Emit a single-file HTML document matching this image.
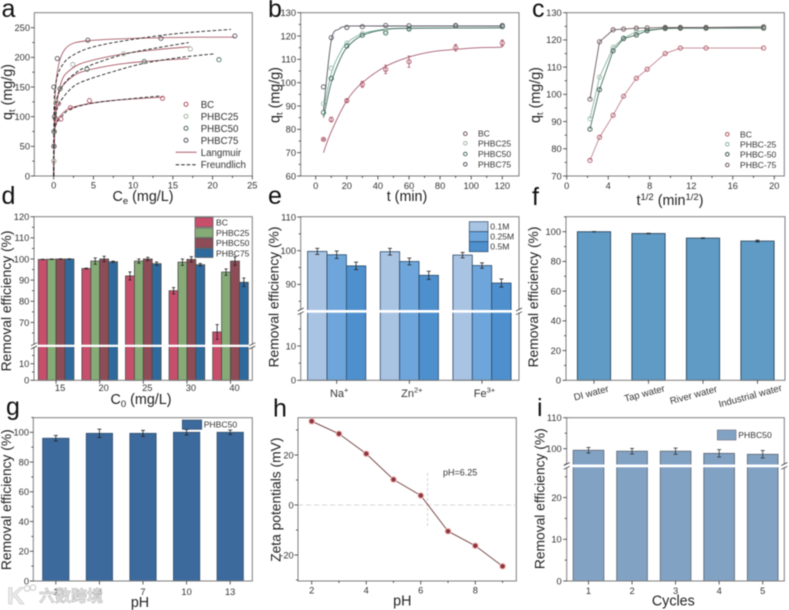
<!DOCTYPE html>
<html lang="en">
<head>
<meta charset="utf-8">
<title>Adsorption performance figure</title>
<style>
html,body{margin:0;padding:0;background:#fff;width:789px;height:610px;overflow:hidden}
svg{display:block;filter:blur(0.5px);font-family:"Liberation Sans","Noto Sans CJK SC",sans-serif}
</style>
</head>
<body>
<svg id="figure" xmlns="http://www.w3.org/2000/svg" width="789" height="610" viewBox="0 0 789 610">
<rect x="0" y="0" width="789" height="610" fill="#fff"/>

<g id="panel-a">
  <g id="marks-a"></g>
  <text x="1.5" y="17" font-size="25" fill="#111">a</text>
  <text transform="translate(12,92) rotate(-90)" text-anchor="middle" font-size="14.3" fill="#222">q<tspan font-size="9.5" dy="3">t</tspan><tspan dy="-3"> (mg/g)</tspan></text>
  <text x="143" y="201" text-anchor="middle" font-size="14.3" fill="#222">C<tspan font-size="9.5" dy="3">e</tspan><tspan dy="-3"> (mg/L)</tspan></text>
  <g font-size="9.7" fill="#333">
    <circle cx="186" cy="104.3" r="2" fill="none" stroke="#b05565"/>
    <circle cx="186" cy="116.3" r="2" fill="none" stroke="#a5b8a5"/>
    <circle cx="186" cy="128.3" r="2" fill="none" stroke="#4f6f5f"/>
    <circle cx="186" cy="140.3" r="2" fill="none" stroke="#5a5560"/>
    <line x1="175.7" x2="196.7" y1="152.3" y2="152.3" stroke="#a85c68"/>
    <line x1="175.7" x2="196.7" y1="164.7" y2="164.7" stroke="#222" stroke-dasharray="3.5 2"/>
    <text x="200.7" y="107.8">BC</text>
    <text x="200.7" y="119.8">PHBC25</text>
    <text x="200.7" y="131.8">PHBC50</text>
    <text x="200.7" y="143.8">PHBC75</text>
    <text x="200.7" y="155.8">Langmuir</text>
    <text x="200.7" y="168.2">Freundlich</text>
  </g>
</g>

<g id="panel-b">
  <g id="marks-b"></g>
  <text x="268" y="17" font-size="25" fill="#111">b</text>
  <text transform="translate(279.7,95) rotate(-90)" text-anchor="middle" font-size="14.3" fill="#222">q<tspan font-size="9.5" dy="3">t</tspan><tspan dy="-3"> (mg/g)</tspan></text>
  <text x="407" y="201" text-anchor="middle" font-size="14.3" fill="#222">t (min)</text>
  <g font-size="8.5" fill="#333">
    <circle cx="465.3" cy="133.7" r="1.8" fill="none" stroke="#6d5560"/>
    <circle cx="465.3" cy="143.3" r="1.8" fill="none" stroke="#a5b8a5"/>
    <circle cx="465.3" cy="154" r="1.8" fill="none" stroke="#4f6f5f"/>
    <circle cx="465.3" cy="164.3" r="1.8" fill="none" stroke="#5a5560"/>
    <text x="478" y="136.7">BC</text>
    <text x="478" y="146.6">PHBC25</text>
    <text x="478" y="157">PHBC50</text>
    <text x="478" y="167.3">PHBC75</text>
  </g>
</g>

<g id="panel-c">
  <g id="marks-c"></g>
  <text x="532" y="17" font-size="25" fill="#111">c</text>
  <text transform="translate(540,95) rotate(-90)" text-anchor="middle" font-size="14.3" fill="#222">q<tspan font-size="9.5" dy="3">t</tspan><tspan dy="-3"> (mg/g)</tspan></text>
  <text x="670" y="205" text-anchor="middle" font-size="14.3" fill="#222">t<tspan font-size="9.5" dy="-5">1/2</tspan><tspan dy="5"> (min</tspan><tspan font-size="9.5" dy="-5">1/2</tspan><tspan dy="5">)</tspan></text>
  <g font-size="8.6" fill="#333">
    <circle cx="727.3" cy="134.3" r="1.8" fill="none" stroke="#b05565"/>
    <circle cx="727.3" cy="144.3" r="1.8" fill="none" stroke="#8ab5a3"/>
    <circle cx="727.3" cy="154.3" r="1.8" fill="none" stroke="#3c5a4c"/>
    <circle cx="727.3" cy="165" r="1.8" fill="none" stroke="#6f5a5f"/>
    <text x="740" y="137.3">BC</text>
    <text x="740" y="147.3">PHBC-25</text>
    <text x="740" y="157.3">PHBC-50</text>
    <text x="740" y="168">PHBC-75</text>
  </g>
</g>

<g id="panel-d">
  <g id="marks-d"></g>
  <text x="1.5" y="204" font-size="25" fill="#111">d</text>
  <text transform="translate(11,301) rotate(-90)" text-anchor="middle" font-size="13.8" fill="#222">Removal efficiency (%)</text>
  <text x="141" y="404" text-anchor="middle" font-size="14.3" fill="#222">C<tspan font-size="9.5" dy="3">0</tspan><tspan dy="-3"> (mg/L)</tspan></text>
  <g font-size="8.6" fill="#333">
    <rect x="195" y="217.5" width="18" height="9.5" fill="#c84f6c" stroke="#555" stroke-width=".7"/>
    <rect x="195" y="228" width="18" height="9.5" fill="#86ab76" stroke="#555" stroke-width=".7"/>
    <rect x="195" y="238.3" width="18" height="9.5" fill="#8e4c57" stroke="#555" stroke-width=".7"/>
    <rect x="195" y="248.5" width="18" height="9" fill="#2f6a9e" stroke="#555" stroke-width=".7"/>
    <text x="216" y="225.5">BC</text>
    <text x="216" y="236">PHBC25</text>
    <text x="216" y="246.2">PHBC50</text>
    <text x="216" y="256.5">PHBC75</text>
  </g>
</g>

<g id="panel-e">
  <g id="marks-e"></g>
  <text x="268" y="204" font-size="25" fill="#111">e</text>
  <text transform="translate(278.7,297) rotate(-90)" text-anchor="middle" font-size="13.8" fill="#222">Removal efficiency (%)</text>
  <g font-size="8.6" fill="#333">
    <rect x="469.3" y="221.7" width="18.7" height="10" fill="#a9c3e3" stroke="#2a4a6a" stroke-width=".7"/>
    <rect x="469.3" y="231.7" width="18.7" height="10" fill="#6ea6dc" stroke="#2a4a6a" stroke-width=".7"/>
    <rect x="469.3" y="241.7" width="18.7" height="10" fill="#4e8fce" stroke="#2a4a6a" stroke-width=".7"/>
    <text x="490.3" y="229.5">0.1M</text>
    <text x="490.3" y="239.5">0.25M</text>
    <text x="490.3" y="249.5">0.5M</text>
  </g>
</g>

<g id="panel-f">
  <g id="marks-f"></g>
  <text x="532" y="205" font-size="25" fill="#111">f</text>
  <text transform="translate(538,297) rotate(-90)" text-anchor="middle" font-size="13.8" fill="#222">Removal efficiency (%)</text>
</g>

<g id="panel-g">
  <g id="marks-g"></g>
  <text x="6" y="415" font-size="25" fill="#111">g</text>
  <text transform="translate(11,499.7) rotate(-90)" text-anchor="middle" font-size="13.8" fill="#222">Removal efficiency (%)</text>
  <text x="140" y="607" text-anchor="middle" font-size="14.3" fill="#222">pH</text>
  <g font-size="8.6" fill="#333">
    <rect x="182.3" y="420" width="19.4" height="9.3" fill="#3d6a9c" stroke="#2f4f70" stroke-width=".7"/>
    <text x="203.7" y="427.3">PHBC50</text>
  </g>
</g>

<g id="panel-h">
  <g id="marks-h"></g>
  <text x="273" y="416.5" font-size="25" fill="#111">h</text>
  <text transform="translate(280.3,499.7) rotate(-90)" text-anchor="middle" font-size="13.8" fill="#222">Zeta potentials (mV)</text>
  <text x="402.3" y="605.5" text-anchor="middle" font-size="14.3" fill="#222">pH</text>
  <text x="443" y="475.7" font-size="9" fill="#333">pH=6.25</text>
</g>

<g id="panel-i">
  <g id="marks-i"></g>
  <text x="537" y="416" font-size="25" fill="#111">i</text>
  <text transform="translate(544.3,498.7) rotate(-90)" text-anchor="middle" font-size="13.8" fill="#222">Removal efficiency (%)</text>
  <text x="673.3" y="605.5" text-anchor="middle" font-size="14.3" fill="#222">Cycles</text>
  <g font-size="8.6" fill="#333">
    <rect x="717.3" y="430" width="18.7" height="10" fill="#82a2c4" stroke="#667" stroke-width=".6"/>
    <text x="738.3" y="438">PHBC50</text>
  </g>
</g>

<g opacity=".9">
  <text x="7" y="604" font-size="24" font-weight="bold" fill="#e8e8e8" stroke="#bbb" stroke-width=".5">K</text>
  <circle cx="27" cy="588.5" r="2.8" fill="#fff" stroke="#c4c4c4"/>
  <circle cx="33" cy="587.5" r="2.8" fill="#fff" stroke="#c4c4c4"/>
  <text x="39" y="601.5" font-size="16" font-weight="bold" fill="#e2e2e2" stroke="#aaa" stroke-width=".5">六数跨境</text>
</g>
</svg>

<script>
/* ---------- panel a data ---------- */
const aBcCe = [0.02,0.05,0.08,0.2,0.6,0.9,2.1,4.5,13.7];
const aBcQ = [25,50,75,97,122,96,115,127,131];
const a25Ce = [0.02,0.05,0.08,0.3,2.4,8.8,17.2];
const a25Q = [25,50,75,125,188,206,214];
const a50Ce = [0.03,0.1,0.8,4.2,11.4,20.8];
const a50Q = [75,100,147,180,193,196];
const a75Ce = [0.02,0.02,0.45,4.3,13.5,22.8];
const a75Q = [50,150,198,229,232,236];
const aLangBcCe = [0,0.05,0.15,0.5,1,2,4.5,8,13.8];
const aLangBcQ = [0,50,80,95,104,114,122,128,133];
const aLang25Ce = [0,0.1,0.3,1,2,4,8.8,13,17.2];
const aLang25Q = [0,70,115,160,178,192,206,213,218];
const aLang50Ce = [0,0.1,0.3,0.8,2.4,4.2,8,11.4,17];
const aLang50Q = [0,60,110,145,168,178,188,193,198];
const aLang75Ce = [0,0.05,0.1,0.2,0.4,0.8,1.5,2.5,4.3,8,13,18,22.8];
const aLang75Q = [0,60,100,140,170,197,215,224,228,231,233,234,234];
const aFreBcCe = [0,0.05,0.3,1,2,4.5,8,13.5];
const aFreBcQ = [0,70,87,100,112,122,128,135];
const aFre25Ce = [0,0.05,0.3,1,2.4,4.3,8.8,13,17];
const aFre25Q = [0,90,125,150,170,185,205,216,225];
const aFre50Ce = [0,0.05,0.3,0.8,2.4,4.2,8,11.4,16,20.3];
const aFre50Q = [0,80,105,125,150,162,178,190,200,206];
const aFre75Ce = [0,0.05,0.2,0.5,1,2,4.3,8,13.5,18,22.3];
const aFre75Q = [0,120,150,170,185,200,215,226,237,243,247];

/* ---------- panel b data ---------- */
const bTime = [5,10,20,30,45,60,90,120];
const bBc = [75.7,84.2,92.3,99.3,105.7,109,115,117];
const b25 = [91,106.2,117,121,122,123.5,124.3,124.5];
const b50 = [87.2,101.8,115.7,120.3,121.3,123,124.3,124];
const b75 = [98.2,119.3,123.7,124,124.5,124.4,124.5,124.5];
const bBcErr = [0.3,1,0.5,1.3,1.8,2.4,1.4,1.3];
const bCurveBcT = [5,10,20,30,45,60,75,90,105,120];
const bCurveBc = [70,79,92.3,100,107,111,113.3,114.3,115,115.2];
const bCurve25T = [5,10,15,20,30,45,60,120];
const bCurve25 = [88,104,112,117,121,123,123.4,123.5];
const bCurve50T = [5,10,15,20,30,45,60,120];
const bCurve50 = [85,100,109,115,120.3,122.8,123.3,123.5];
const bCurve75T = [5,10,15,20,30,45,120];
const bCurve75 = [88,118,123,124.2,124.3,124.3,124.3];

/* ---------- panel c data ---------- */
const cRootT = [2.24,3.16,4.47,5.48,6.71,7.75,9.49,10.95,13.42,18.97];
const cBc = [75.7,84.2,92.3,99.3,105.9,109.2,115,117,117,117];
const c25 = [91,106.3,117.3,120.7,123,123.7,124.2,124.3,124.3,124.5];
const c50 = [87.2,101.7,116,120.5,121.8,123.4,124.2,124.3,124.3,124.3];
const c75 = [98.2,119.3,123.7,124,124.3,124.4,124.6,124.6,124.6,124.8];

/* ---------- panel d data ---------- */
const dCategories = ['15','20','25','30','40'];
const dBc = [99.8,95.5,92,85,65.5];
const d25 = [99.9,99,99,98.5,93.8];
const d50 = [100,100,100,99.8,99];
const d75 = [100,98.7,97.8,97.3,89];
const dBcErr = [0.1,0.2,1.9,1.5,3.5];
const d25Err = [0.1,1.5,1,1.5,1.5];
const d50Err = [0.1,1.3,0.8,1.3,2];
const d75Err = [0.1,0.3,0.8,0.6,2];

/* ---------- panel e data ---------- */
const eIons = ['Na','Zn','Fe'];
const eCharges = ['+','2+','3+'];
const e01 = [99.8,99.7,98.7];
const e025 = [98.8,96.8,95.6];
const e05 = [95.5,92.7,90.4];
const e01Err = [0.9,1,0.8];
const e025Err = [1.1,1,0.8];
const e05Err = [1.1,1.2,1.2];

/* ---------- panel f data ---------- */
const fCategories = ['DI water','Tap water','River water','Industrial water'];
const fValues = [100,98.8,95.7,93.7];
const fErr = [0.1,0.2,0.2,0.6];

/* ---------- panel g data ---------- */
const gCategories = ['1','4','7','10','13'];
const gValues = [96,99.3,99.3,100,100];
const gErr = [1.9,2.8,2,1.8,1.5];

/* ---------- panel h data ---------- */
const hPh = [2,3,4,5,6,7,8,9];
const hZeta = [33.5,28.5,20.5,10.2,3.8,-10.5,-16.3,-24.5];
const hIsoPh = [6.25];

/* ---------- panel i data ---------- */
const iCategories = ['1','2','3','4','5'];
const iValues = [99.5,99.2,99.2,98.5,98.2];
const iErr = [0.9,0.9,1,1.2,1.2];

/* ---------- helpers ---------- */
const NS = 'http://www.w3.org/2000/svg';
const AXIS = '#333';
const FRAME = '#7d7d7d';
const TICK_SIZE = 9.3;
function mk(tag, parent, attrs) {
  const el = document.createElementNS(NS, tag);
  for (const k in attrs) el.setAttribute(k, attrs[k]);
  parent.appendChild(el);
  return el;
}
function linear(d0, d1, r0, r1) {
  return v => r0 + (v - d0) * (r1 - r0) / (d1 - d0);
}
function range(a, b, step) {
  const out = [];
  for (let v = a; v <= b + 1e-9; v += step) out.push(+v.toFixed(6));
  return out;
}
function addText(g, name, x, y, txt, anchor, size) {
  const el = mk('text', g, {x: x, y: y, 'text-anchor': anchor, 'font-size': size, fill: '#333'});
  el.textContent = txt;
  
  
  return el;
}
function addLine(g, name, x1, y1, x2, y2, color, width, dash) {
  const el = mk('line', g, {x1: x1, y1: y1, x2: x2, y2: y2, stroke: color, 'stroke-width': width || 0.8});
  if (dash) el.setAttribute('stroke-dasharray', dash);
  
  
  return el;
}
function addFrame(g, x0, y0, x1, y1) {
  const el = mk('rect', g, {x: x0, y: y0, width: x1 - x0, height: y1 - y0, fill: 'none', stroke: FRAME, 'stroke-width': 1});
  
  
  return el;
}
function yTicks(g, scale, xAxis, majors, minors, labelRight) {
  minors.forEach(v => addLine(g, 'y-minor-tick', xAxis - 2, scale(v), xAxis, scale(v), AXIS));
  majors.forEach(v => {
    addLine(g, 'y-major-tick', xAxis - 3.5, scale(v), xAxis, scale(v), AXIS);
    addText(g, 'y-tick-label', labelRight, scale(v) + 3.3, String(v), 'end', TICK_SIZE);
  });
}
function xTicks(g, scale, yAxis, majors, minors, baseline) {
  minors.forEach(v => addLine(g, 'x-minor-tick', scale(v), yAxis, scale(v), yAxis + 2, AXIS));
  majors.forEach(v => {
    addLine(g, 'x-major-tick', scale(v), yAxis, scale(v), yAxis + 3.5, AXIS);
    addText(g, 'x-tick-label', scale(v), baseline, String(v), 'middle', TICK_SIZE);
  });
}
function smooth(pts) {
  let d = 'M' + pts[0][0].toFixed(2) + ' ' + pts[0][1].toFixed(2);
  for (let i = 0; i < pts.length - 1; i++) {
    const p0 = pts[Math.max(0, i - 1)], p1 = pts[i], p2 = pts[i + 1], p3 = pts[Math.min(pts.length - 1, i + 2)];
    const c1x = p1[0] + (p2[0] - p0[0]) / 6, c1y = p1[1] + (p2[1] - p0[1]) / 6;
    const c2x = p2[0] - (p3[0] - p1[0]) / 6, c2y = p2[1] - (p3[1] - p1[1]) / 6;
    d += 'C' + [c1x, c1y, c2x, c2y, p2[0], p2[1]].map(n => n.toFixed(2)).join(' ');
  }
  return d;
}
function addCurve(g, name, xs, ys, sx, sy, color, dash) {
  const pts = xs.map((x, i) => [sx(x), sy(ys[i])]);
  const el = mk('path', g, {d: smooth(pts), fill: 'none', stroke: color, 'stroke-width': 0.9});
  if (dash) el.setAttribute('stroke-dasharray', dash);
  
  
  return el;
}
function addPolyline(g, name, xs, ys, sx, sy, color, width) {
  const pts = xs.map((x, i) => sx(x).toFixed(2) + ',' + sy(ys[i]).toFixed(2)).join(' ');
  const el = mk('polyline', g, {points: pts, fill: 'none', stroke: color, 'stroke-width': width || 0.9});
  
  
  return el;
}
function addPoints(g, name, xs, ys, sx, sy, color) {
  xs.forEach((x, i) => {
    const el = mk('circle', g, {cx: sx(x), cy: sy(ys[i]), r: 2.1, fill: 'none', stroke: color, 'stroke-width': 0.9});
    
    
  });
}
function addBar(g, name, x, w, yTop, yBase, fill, stroke) {
  const el = mk('rect', g, {x: x, y: yTop, width: w, height: yBase - yTop, fill: fill, stroke: stroke, 'stroke-width': 0.8});
  
  
  return el;
}
function addError(g, name, x, yHi, yLo, color, cap) {
  addLine(g, name, x, yHi, x, yLo, color, 0.8);
  addLine(g, name + '-cap', x - cap, yHi, x + cap, yHi, color, 0.8);
  addLine(g, name + '-cap', x - cap, yLo, x + cap, yLo, color, 0.8);
}
function addBreak(g, x0, x1, yTop, yBot) {
  const band = mk('rect', g, {x: x0 - 1.5, y: yTop, width: x1 - x0 + 3, height: yBot - yTop, fill: '#fff'});
  
  
  [x0, x1].forEach(x => {
    addLine(g, 'axis-break-mark', x - 3, yTop + 1, x + 3, yTop - 2, AXIS, 0.7);
    addLine(g, 'axis-break-mark', x - 3, yBot + 2, x + 3, yBot - 1, AXIS, 0.7);
  });
}

/* ---------- panel a ---------- */
(function () {
  const g = document.getElementById('marks-a');
  const sx = linear(0, 25, 53.7, 252.3), sy = linear(0, 250, 176, 27.7);
  addFrame(g, 34.3, 12.7, 252.3, 176);
  yTicks(g, sy, 34.3, range(0, 250, 50), range(25, 225, 50), 30);
  xTicks(g, sx, 176, range(0, 25, 5), range(2.5, 22.5, 5), 188.5);
  const lang = '#a85c68', fre = '#222', dash = '3.5 2';
  addCurve(g, 'langmuir-fit-bc', aLangBcCe, aLangBcQ, sx, sy, lang);
  addCurve(g, 'langmuir-fit-phbc25', aLang25Ce, aLang25Q, sx, sy, lang);
  addCurve(g, 'langmuir-fit-phbc50', aLang50Ce, aLang50Q, sx, sy, lang);
  addCurve(g, 'langmuir-fit-phbc75', aLang75Ce, aLang75Q, sx, sy, lang);
  addCurve(g, 'freundlich-fit-bc', aFreBcCe, aFreBcQ, sx, sy, fre, dash);
  addCurve(g, 'freundlich-fit-phbc25', aFre25Ce, aFre25Q, sx, sy, fre, dash);
  addCurve(g, 'freundlich-fit-phbc50', aFre50Ce, aFre50Q, sx, sy, fre, dash);
  addCurve(g, 'freundlich-fit-phbc75', aFre75Ce, aFre75Q, sx, sy, fre, dash);
  addPoints(g, 'point-bc', aBcCe, aBcQ, sx, sy, '#b05565');
  addPoints(g, 'point-phbc25', a25Ce, a25Q, sx, sy, '#a5b8a5');
  addPoints(g, 'point-phbc50', a50Ce, a50Q, sx, sy, '#4f6f5f');
  addPoints(g, 'point-phbc75', a75Ce, a75Q, sx, sy, '#5a5560');
})();

/* ---------- panel b ---------- */
(function () {
  const g = document.getElementById('marks-b');
  const sx = linear(0, 120, 315.7, 502.3), sy = linear(60, 130, 176, 12.7);
  addFrame(g, 300.7, 12.7, 519, 176);
  yTicks(g, sy, 300.7, range(60, 130, 10), range(65, 125, 10), 296);
  xTicks(g, sx, 176, range(0, 120, 20), range(10, 110, 20), 189);
  addCurve(g, 'fit-bc', bCurveBcT, bCurveBc, sx, sy, '#a85c72');
  addCurve(g, 'fit-phbc25', bCurve25T, bCurve25, sx, sy, '#7fb5a5');
  addCurve(g, 'fit-phbc50', bCurve50T, bCurve50, sx, sy, '#3f6a5a');
  addCurve(g, 'fit-phbc75', bCurve75T, bCurve75, sx, sy, '#555560');
  bTime.forEach((t, i) => addError(g, 'error-bar-bc', sx(t), sy(bBc[i] + bBcErr[i]), sy(bBc[i] - bBcErr[i]), '#a85c72', 1.5));
  addPoints(g, 'point-bc', bTime, bBc, sx, sy, '#b05565');
  addPoints(g, 'point-phbc25', bTime, b25, sx, sy, '#9fbfae');
  addPoints(g, 'point-phbc50', bTime, b50, sx, sy, '#3f6a5a');
  addPoints(g, 'point-phbc75', bTime, b75, sx, sy, '#5a5560');
})();

/* ---------- panel c ---------- */
(function () {
  const g = document.getElementById('marks-c');
  const sx = linear(0, 20, 566.7, 774.3), sy = linear(70, 130, 176, 12.7);
  addFrame(g, 566.7, 12.7, 784.3, 176);
  yTicks(g, sy, 566.7, range(70, 130, 10), range(75, 125, 10), 561.7);
  xTicks(g, sx, 176, range(0, 20, 4), range(2, 18, 4), 189);
  addPolyline(g, 'line-bc', cRootT, cBc, sx, sy, '#c08490');
  addPolyline(g, 'line-phbc25', cRootT, c25, sx, sy, '#8ab5a3');
  addPolyline(g, 'line-phbc50', cRootT, c50, sx, sy, '#4a6f5f');
  addPolyline(g, 'line-phbc75', cRootT, c75, sx, sy, '#6f5a5f');
  addPoints(g, 'point-bc', cRootT, cBc, sx, sy, '#b05565');
  addPoints(g, 'point-phbc25', cRootT, c25, sx, sy, '#9fbfae');
  addPoints(g, 'point-phbc50', cRootT, c50, sx, sy, '#3c5a4c');
  addPoints(g, 'point-phbc75', cRootT, c75, sx, sy, '#6f5a5f');
})();

/* ---------- panel d ---------- */
(function () {
  const g = document.getElementById('marks-d');
  const upper = linear(100, 120, 259, 216.7), lower = linear(0, 10, 380.3, 363.7);
  const center = linear(0, dCategories.length - 1, 56.1, 230.5);
  const w = 8.9;
  const series = [[dBc, dBcErr, '#c84f6c', 'bar-bc'], [d25, d25Err, '#86ab76', 'bar-phbc25'], [d50, d50Err, '#8e4c57', 'bar-phbc50'], [d75, d75Err, '#2f6a9e', 'bar-phbc75']];
  series.forEach((s, si) => {
    s[0].forEach((v, i) => {
      const x = center(i) - 2 * w + si * w;
      addBar(g, s[3], x, w, upper(v), 380.3, s[2], '#4a4a4a');
      addError(g, 'error-bar', x + w / 2, upper(v + s[1][i]), upper(v - s[1][i]), '#222', 1.6);
    });
  });
  addFrame(g, 34, 216.7, 252.3, 380.3);
  addBreak(g, 34, 252.3, 344.7, 347);
  yTicks(g, upper, 34, range(70, 120, 10), range(65, 115, 10), 29.3);
  yTicks(g, lower, 34, [0, 10], [5, 15], 29.3);
  dCategories.forEach((c, i) => {
    addLine(g, 'x-major-tick', center(i), 380.3, center(i), 383.8, AXIS);
    addText(g, 'x-tick-label', center(i) + 4, 391, c, 'middle', TICK_SIZE);
  });
})();

/* ---------- panel e ---------- */
(function () {
  const g = document.getElementById('marks-e');
  const upper = linear(100, 110, 250.7, 217), lower = linear(0, 10, 380.3, 346);
  const center = linear(0, eIons.length - 1, 336.7, 482);
  const w = 19.4;
  const series = [[e01, e01Err, '#a9c3e3', 'bar-0-1m'], [e025, e025Err, '#6ea6dc', 'bar-0-25m'], [e05, e05Err, '#4e8fce', 'bar-0-5m']];
  series.forEach((s, si) => {
    s[0].forEach((v, i) => {
      const x = center(i) - 1.5 * w + si * w;
      addBar(g, s[3], x, w, upper(v), 380.3, s[2], '#2a4a6a');
      addError(g, 'error-bar', x + w / 2, upper(v + s[1][i]), upper(v - s[1][i]), '#222', 2);
    });
  });
  addFrame(g, 300.7, 216.7, 519, 380.3);
  addBreak(g, 300.7, 519, 310, 312.7);
  yTicks(g, upper, 300.7, [90, 100, 110], [85, 95, 105], 296);
  yTicks(g, lower, 300.7, [0, 10], [5, 15], 296);
  eIons.forEach((ion, i) => {
    addLine(g, 'x-major-tick', center(i), 380.3, center(i), 383.8, AXIS);
    const t = addText(g, 'x-tick-label', center(i) + 2.5, 397, ion, 'middle', 11);
    const sup = mk('tspan', t, {'font-size': 7.5, dy: -4.5});
    sup.textContent = eCharges[i];
    
    
  });
})();

/* ---------- panel f ---------- */
(function () {
  const g = document.getElementById('marks-f');
  const sy = linear(0, 100, 380.3, 231.7);
  const center = linear(0, fCategories.length - 1, 594, 757.5);
  const w = 33.3;
  fValues.forEach((v, i) => {
    addBar(g, 'bar-water-matrix', center(i) - w / 2, w, sy(v), 380.3, '#5f9bc5', '#253d55');
    addError(g, 'error-bar', center(i), sy(v + fErr[i]), sy(v - fErr[i]), '#222', 2);
  });
  addFrame(g, 566, 216.7, 785, 380.3);
  yTicks(g, sy, 566, range(0, 100, 20), range(10, 110, 20), 561);
  const labelX = [592, 645.3, 694.3, 751];
  const labelY = [396, 396.5, 398, 399];
  fCategories.forEach((c, i) => {
    addLine(g, 'x-major-tick', center(i), 380.3, center(i), 383.8, AXIS);
    const t = addText(g, 'x-tick-label', labelX[i], labelY[i], c, 'middle', 9.6);
    t.setAttribute('transform', 'rotate(-15 ' + labelX[i] + ' ' + labelY[i] + ')');
  });
})();

/* ---------- panel g ---------- */
(function () {
  const g = document.getElementById('marks-g');
  const sy = linear(0, 100, 581, 432.3);
  const center = linear(0, gCategories.length - 1, 55.8, 230.2);
  const w = 26.3;
  gValues.forEach((v, i) => {
    addBar(g, 'bar-ph', center(i) - w / 2, w, sy(v), 581, '#3d6a9c', '#2f4f70');
    addError(g, 'error-bar', center(i), sy(v + gErr[i]), sy(v - gErr[i]), '#222', 2);
  });
  addFrame(g, 33.3, 417.7, 252.3, 581);
  yTicks(g, sy, 33.3, range(0, 100, 20), range(10, 110, 20), 29);
  gCategories.forEach((c, i) => {
    addLine(g, 'x-major-tick', center(i), 581, center(i), 584.5, AXIS);
    addText(g, 'x-tick-label', center(i), 595, c, 'middle', TICK_SIZE);
  });
})();

/* ---------- panel h ---------- */
(function () {
  const g = document.getElementById('marks-h');
  const sx = linear(2, 8, 311.7, 475.3), sy = linear(0, 20, 505, 455);
  addFrame(g, 298, 417.7, 516.3, 581);
  yTicks(g, sy, 298, [-20, 0, 20], [-30, -10, 10, 30], 293.7);
  xTicks(g, sx, 581, [2, 4, 6, 8], [3, 5, 7, 9], 593.5);
  addLine(g, 'zero-reference-line', 298, sy(0), 516.3, sy(0), '#c9c9c9', 0.8, '5 3');
  addLine(g, 'isoelectric-point-line', sx(hIsoPh[0]), 473, sx(hIsoPh[0]), 527.7, '#c9c9c9', 0.8, '3 2');
  addPolyline(g, 'zeta-line', hPh, hZeta, sx, sy, '#7a4a4a', 1);
  hPh.forEach((p, i) => {
    const halo = mk('circle', g, {cx: sx(p), cy: sy(hZeta[i]), r: 3.3, fill: '#f3b9b5'});
    
    
    const dot = mk('circle', g, {cx: sx(p), cy: sy(hZeta[i]), r: 2.3, fill: '#8d3640'});
    
    
  });
})();

/* ---------- panel i ---------- */
(function () {
  const g = document.getElementById('marks-i');
  const upper = linear(100, 110, 448.7, 417.7), lower = linear(0, 10, 581, 539.3);
  const center = linear(0, iCategories.length - 1, 588.5, 762.7);
  const w = 30.7;
  iValues.forEach((v, i) => {
    addBar(g, 'bar-cycle', center(i) - w / 2, w, upper(v), 581, '#82a2c4', '#5a6470');
    addError(g, 'error-bar', center(i), upper(v + iErr[i]), upper(v - iErr[i]), '#333', 2);
  });
  addFrame(g, 566.7, 417.7, 784.3, 581);
  addBreak(g, 566.7, 784.3, 464.5, 467.3);
  yTicks(g, upper, 566.7, [100, 110], [95, 105], 561.7);
  yTicks(g, lower, 566.7, [0, 10, 20], [5, 15, 25], 561.7);
  iCategories.forEach((c, i) => {
    addLine(g, 'x-major-tick', center(i), 581, center(i), 584.5, AXIS);
    addText(g, 'x-tick-label', center(i), 594, c, 'middle', TICK_SIZE);
  });
})();
</script>
</body>
</html>
